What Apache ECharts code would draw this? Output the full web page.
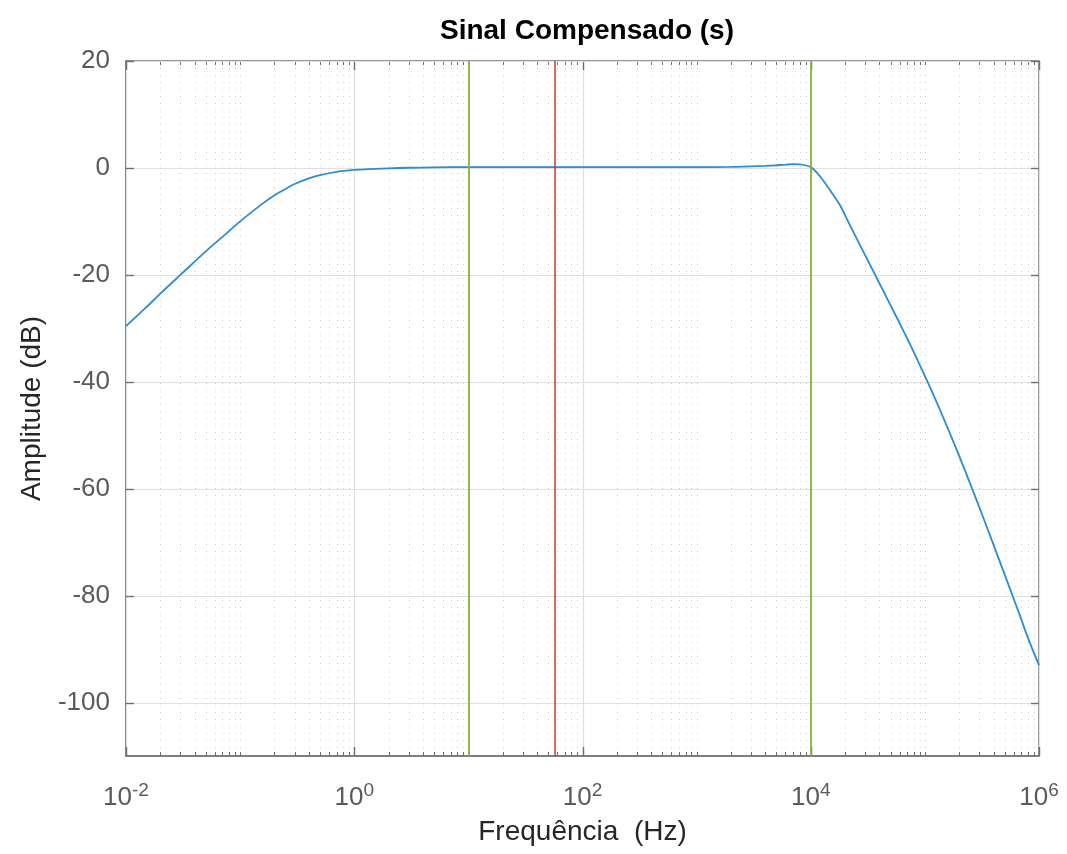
<!DOCTYPE html>
<html>
<head>
<meta charset="utf-8">
<script src="https://cdn.jsdelivr.net/npm/echarts@6/dist/echarts.min.js"></script>
<style>
html,body{margin:0;padding:0;background:#fff;}
#chart{width:1067px;height:854px;}
</style>
</head>
<body>
<div id="chart"></div>
<script>
// ---- data ----
const freqHz = [0.01, 0.015, 0.02, 0.03, 0.05, 0.07, 0.1, 0.15, 0.2, 0.25, 0.3, 0.4, 0.5, 0.7, 1, 1.5, 2, 3, 5, 10, 100, 1000, 2000, 3000, 4000, 5000, 6000, 7000, 8000, 9000, 10000, 11000, 12800, 15000, 17950, 21000, 25100, 30000, 36300, 42000, 49200, 58000, 68900, 83000, 103000, 134800, 189000, 264000, 370000, 554000, 677000, 800000, 1000000];
const ampDb = [-29.6, -26.1, -23.5, -20.0, -15.6, -12.9, -10.0, -7.0, -5.1, -3.95, -3.0, -1.95, -1.35, -0.72, -0.37, -0.18, -0.07, 0.03, 0.1, 0.15, 0.15, 0.15, 0.2, 0.3, 0.4, 0.5, 0.6, 0.7, 0.65, 0.5, 0.15, -0.6, -2.3, -4.4, -6.9, -9.8, -13.1, -16.35, -19.8, -22.5, -25.4, -28.4, -31.6, -35.2, -39.5, -45.1, -52.6, -60.4, -68.6, -78.6, -83.6, -87.9, -93.0];
const greenMarkersHz = [10, 10000];
const redMarkersHz = [57];
const yTickValues = [-100, -80, -60, -40, -20, 0, 20];
const xMajorTickValues = [0.01, 1, 100, 10000, 1000000];
const xLimits = [0.01, 1000000];
const yLimits = [-110, 20];

// minor log positions (2..9 of every decade and the odd decades)
const xMinorTickValues = [];
for (let k = -2; k < 6; k++) {
  for (let m = 2; m <= 9; m++) xMinorTickValues.push(m * Math.pow(10, k));
  if (k % 2 !== 0) xMinorTickValues.push(Math.pow(10, k));
}

const chart = echarts.init(document.getElementById('chart'), null, {renderer: 'canvas'});
const FONT = 'Liberation Sans, Arial, Helvetica, sans-serif';

function gridRender(params, api) {
  const children = [];
  const top = api.coord([xLimits[0], yLimits[1]])[1];
  const bot = api.coord([xLimits[0], yLimits[0]])[1];
  const left = api.coord([xLimits[0], 0])[0];
  const right = api.coord([xLimits[1], 0])[0];
  xMinorTickValues.forEach(v => {
    const x = Math.round(api.coord([v, 0])[0]) + 0.5;
    children.push({type: 'line', shape: {x1: x, y1: top, x2: x, y2: bot},
      style: {stroke: '#cdcdcd', lineWidth: 1, lineDash: [1, 6]}});
    children.push({type: 'line', shape: {x1: x, y1: bot, x2: x, y2: bot - 4}, style: {stroke: '#6e6e6e', lineWidth: 1}});
    children.push({type: 'line', shape: {x1: x, y1: top, x2: x, y2: top + 4}, style: {stroke: '#6e6e6e', lineWidth: 1}});
  });
  xMajorTickValues.forEach(v => {
    const x = Math.round(api.coord([v, 0])[0]) + 0.5;
    children.push({type: 'line', shape: {x1: x, y1: top, x2: x, y2: bot}, style: {stroke: '#e0e0e0', lineWidth: 1.2}});
    children.push({type: 'line', shape: {x1: x, y1: bot, x2: x, y2: bot - 9}, style: {stroke: '#6e6e6e', lineWidth: 1.4}});
    children.push({type: 'line', shape: {x1: x, y1: top, x2: x, y2: top + 9}, style: {stroke: '#6e6e6e', lineWidth: 1.4}});
  });
  yTickValues.forEach(v => {
    const y = Math.round(api.coord([xLimits[0], v])[1]) + 0.5;
    children.push({type: 'line', shape: {x1: left, y1: y, x2: right, y2: y}, style: {stroke: '#e0e0e0', lineWidth: 1.2}});
    children.push({type: 'line', shape: {x1: left, y1: y, x2: left + 8, y2: y}, style: {stroke: '#6e6e6e', lineWidth: 1.4}});
    children.push({type: 'line', shape: {x1: right, y1: y, x2: right - 8, y2: y}, style: {stroke: '#6e6e6e', lineWidth: 1.4}});
  });
  return {type: 'group', children: children};
}

const option = {
  backgroundColor: '#ffffff',
  animation: false,
  title: {
    text: 'Sinal Compensado (s)',
    left: 582, top: 12, textAlign: 'center',
    textStyle: {fontFamily: FONT, fontWeight: 'bold', fontSize: 28, color: '#000'}
  },
  grid: {left: 126, right: 28, top: 61, bottom: 98, show: true, borderColor: '#767676', borderWidth: 1.5, backgroundColor: '#fff'},
  xAxis: {
    type: 'log', logBase: 10, min: xLimits[0], max: xLimits[1], splitNumber: 4,
    name: 'Frequência  (Hz)', nameLocation: 'middle', nameGap: 62,
    nameTextStyle: {fontFamily: FONT, fontSize: 28, color: '#262626'},
    axisLine: {show: true, onZero: false, lineStyle: {color: '#767676', width: 1.5}},
    axisTick: {show: false}, splitLine: {show: false}, minorTick: {show: false},
    axisLabel: {
      margin: 25, color: '#5a5a5a', fontFamily: FONT,
      formatter: function (v) {
        const e = Math.round(Math.log10(v));
        if (e % 2 !== 0) return '';
        return '{b|10}{s|' + e + '}';
      },
      rich: {
        b: {fontSize: 26, fontFamily: FONT, color: '#5a5a5a'},
        s: {fontSize: 19, fontFamily: FONT, color: '#5a5a5a', padding: [0, 0, 14, 0]}
      }
    }
  },
  yAxis: {
    type: 'value', min: yLimits[0], max: yLimits[1], interval: 10,
    name: 'Amplitude (dB)', nameLocation: 'middle', nameGap: 80,
    nameTextStyle: {fontFamily: FONT, fontSize: 28, color: '#262626'},
    axisLine: {show: true, onZero: false, lineStyle: {color: '#767676', width: 1.5}},
    axisTick: {show: false}, splitLine: {show: false},
    axisLabel: {
      margin: 16, fontSize: 26, fontFamily: FONT, color: '#5a5a5a',
      formatter: function (v) { return (v % 20 === 0) ? String(v) : ''; }
    }
  },
  series: [
    {
      type: 'custom', renderItem: gridRender, data: [[1, 0]], silent: true, z: 1, clip: false
    },
    {
      name: 'Sinal', type: 'line', z: 3,
      data: freqHz.map((f, i) => [f, ampDb[i]]),
      showSymbol: false, symbol: 'none', smooth: 0.3,
      lineStyle: {color: '#2f8bd2', width: 1.8}
    },
    {
      type: 'line', data: [], z: 4, silent: true,
      markLine: {
        silent: true, symbol: 'none', label: {show: false}, animation: false,
        data: greenMarkersHz.map(v => ({xAxis: v, lineStyle: {color: '#86b43a', width: 1.8, type: 'solid'}}))
          .concat(redMarkersHz.map(v => ({xAxis: v, lineStyle: {color: '#c43a32', width: 1.5, type: 'solid'}})))
      }
    }
  ]
};
chart.setOption(option);
</script>
</body>
</html>
